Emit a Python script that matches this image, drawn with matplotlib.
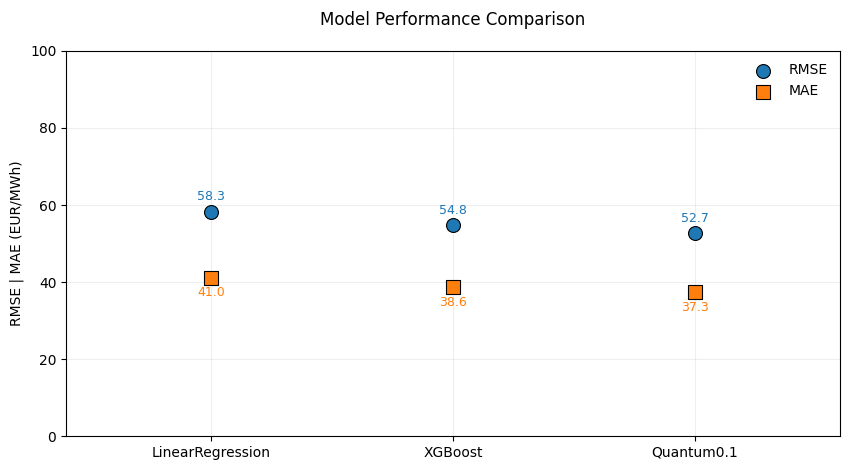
import matplotlib
matplotlib.use('Agg')
import matplotlib.pyplot as plt
import numpy as np

models = ['LinearRegression', 'XGBoost', 'Quantum0.1']
rmse = [58.3, 54.8, 52.7]
mae = [41.0, 38.6, 37.3]

fig, ax = plt.subplots(figsize=(8.51, 4.70), dpi=100)
fig.subplots_adjust(left=0.0776, right=0.987, top=0.8915, bottom=0.0723)

x = np.arange(len(models))
ax.scatter(x, rmse, s=100, marker='o', color='#1f77b4', edgecolors='black',
           linewidths=0.8, label='RMSE', zorder=3)
ax.scatter(x, mae, s=100, marker='s', color='#ff7f0e', edgecolors='black',
           linewidths=0.8, label='MAE', zorder=3)

for xi, r, m in zip(x, rmse, mae):
    ax.annotate(f'{r:.1f}', (xi, r), xytext=(0, 6), textcoords='offset points',
                ha='center', va='bottom', fontsize=9, color='#1f77b4')
    ax.annotate(f'{m:.1f}', (xi, m), xytext=(0, -6), textcoords='offset points',
                ha='center', va='top', fontsize=9, color='#ff7f0e')

ax.set_xticks(x)
ax.set_xticklabels(models)
ax.set_xlim(-0.6, 2.6)
ax.set_ylim(0, 100)
ax.set_ylabel('RMSE | MAE (EUR/MWh)')
ax.set_title('Model Performance Comparison', pad=19)
ax.grid(True, alpha=0.2)
ax.legend(loc='upper right', frameon=False)

plt.savefig('out.png')
